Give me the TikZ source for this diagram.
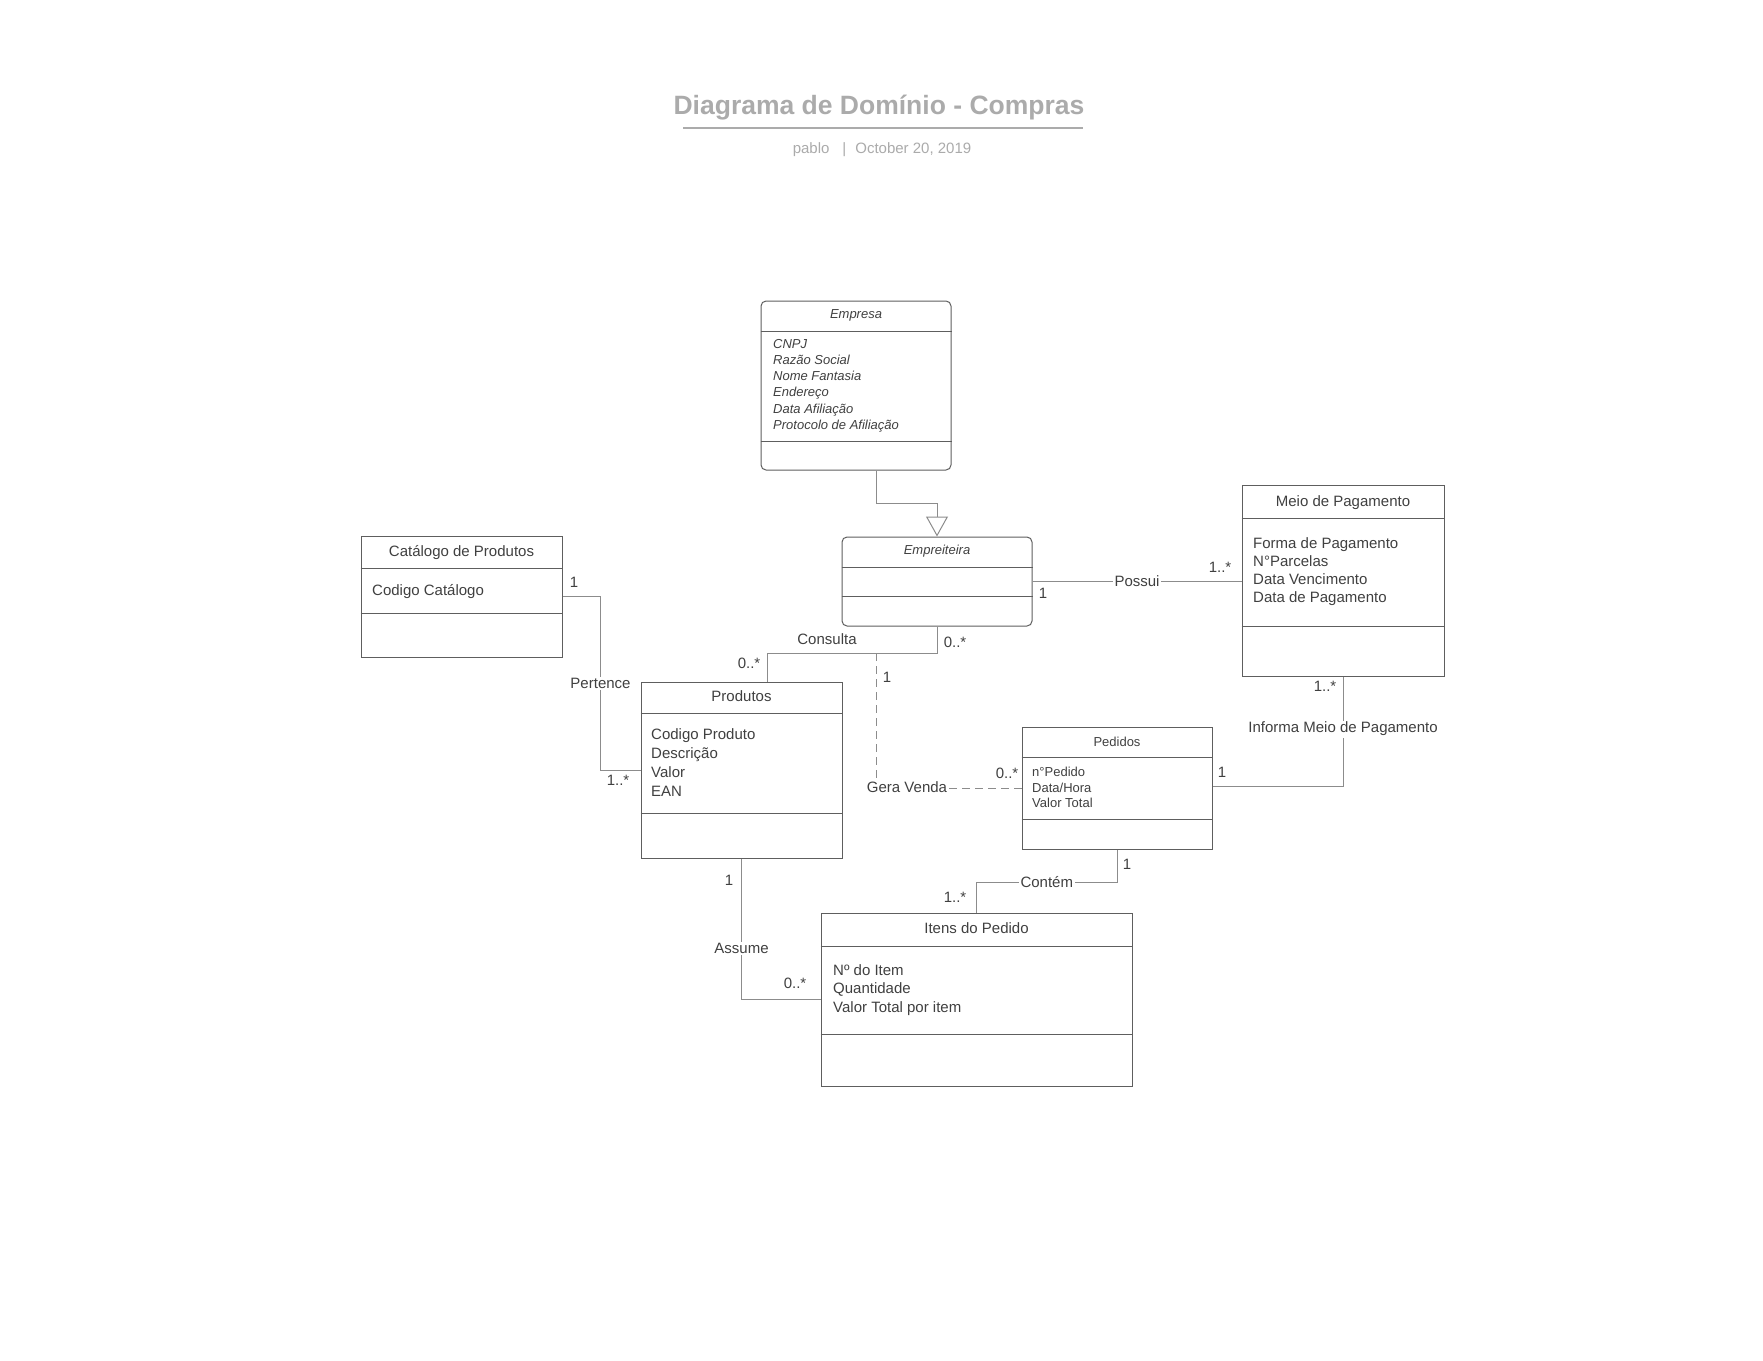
\documentclass[tikz,border=0pt]{standalone}
\usepackage{fontspec}
\setmainfont{Liberation Sans}
\usepackage{tikz}
\usetikzlibrary{calc,arrows.meta}
\definecolor{boxc}{HTML}{5E5E5E}
\definecolor{wirec}{HTML}{8C8C8C}
\definecolor{txtc}{HTML}{404040}
\definecolor{headc}{HTML}{ABABAB}
\newcommand\txtbig{\fontsize{15}{18.3}\selectfont}
\newcommand\txtsmall{\fontsize{13}{16.2}\selectfont}
\tikzset{
  cls/.style={draw=boxc,line width=1pt,fill=white,inner sep=0pt},
  sep/.style={boxc,line width=1pt},
  assoc/.style={wirec,line width=1pt},
  lbl/.style={fill=white,inner sep=1.5pt,text=txtc,font=\txtbig},
  mult/.style={text=txtc,inner sep=0pt,font=\txtbig},
  attr/.style={anchor=north west,align=left,inner sep=0pt,text=txtc},
  head/.style={anchor=base,inner sep=0pt,text=txtc}
}
\begin{document}
\begin{tikzpicture}[x=1pt,y=-1pt]
\useasboundingbox (0,0) rectangle (1763,1360);
\fill[white] (0,0) rectangle (1763,1360);
% title
\node[text=headc,font=\fontsize{26.5}{30}\selectfont\bfseries,anchor=base] (title) at (879,114.5) {Diagrama de Domínio - Compras};
\draw[headc,line width=1.5pt] (683,128) -- (1083,128);
\node[text=headc,font=\fontsize{15}{18}\selectfont,anchor=base] (author) at (882,153) {pablo\hspace{13pt}|\hspace{9pt}October 20, 2019};
% classes
\node[cls,rounded corners=5pt,minimum width=190pt,minimum height=169pt] (empresa) at (856,385.5) {};
\draw[sep] (empresa.west |- 0,331) -- (empresa.east |- 0,331);
\draw[sep] (empresa.west |- 0,441) -- (empresa.east |- 0,441);
\node[head,font=\txtsmall\itshape] (empresa-t) at (856,318.7) {Empresa};
\node[attr,font=\txtsmall\itshape] (empresa-a) at (773,339) {CNPJ\\Razão Social\\Nome Fantasia\\Endereço\\Data Afiliação\\Protocolo de Afiliação};

\node[cls,rounded corners=5pt,minimum width=190pt,minimum height=89pt] (empreiteira) at (937,581.5) {};
\draw[sep] (empreiteira.west |- 0,567) -- (empreiteira.east |- 0,567);
\draw[sep] (empreiteira.west |- 0,596) -- (empreiteira.east |- 0,596);
\node[head,font=\txtsmall\itshape] (empreiteira-t) at (937,554.7) {Empreiteira};

\node[cls,minimum width=202pt,minimum height=191pt] (meio) at (1343,580.5) {};
\draw[sep] (meio.west |- 0,518) -- (meio.east |- 0,518);
\draw[sep] (meio.west |- 0,626) -- (meio.east |- 0,626);
\node[head,font=\txtbig] (meio-t) at (1343,506.4) {Meio de Pagamento};
\node[attr,font=\fontsize{15}{18.3}\selectfont] (meio-a) at (1253,537) {Forma de Pagamento\\N°Parcelas\\Data Vencimento\\Data de Pagamento};

\node[cls,minimum width=201pt,minimum height=121pt] (catalogo) at (461.5,596.5) {};
\draw[sep] (catalogo.west |- 0,568) -- (catalogo.east |- 0,568);
\draw[sep] (catalogo.west |- 0,613) -- (catalogo.east |- 0,613);
\node[head,font=\txtbig] (catalogo-t) at (461.5,556.4) {Catálogo de Produtos};
\node[head,anchor=base west,font=\txtbig] (catalogo-a) at (372,595.4) {Codigo Catálogo};

\node[cls,minimum width=201pt,minimum height=176pt] (produtos) at (741.5,770) {};
\draw[sep] (produtos.west |- 0,713) -- (produtos.east |- 0,713);
\draw[sep] (produtos.west |- 0,813) -- (produtos.east |- 0,813);
\node[head,font=\txtbig] (produtos-t) at (741.5,701.4) {Produtos};
\node[attr,font=\fontsize{15}{19}\selectfont] (produtos-a) at (651,728.4) {Codigo Produto\\Descrição\\Valor\\EAN};

\node[cls,minimum width=190pt,minimum height=122pt] (pedidos) at (1117,788) {};
\draw[sep] (pedidos.west |- 0,757) -- (pedidos.east |- 0,757);
\draw[sep] (pedidos.west |- 0,819) -- (pedidos.east |- 0,819);
\node[head,font=\txtsmall] (pedidos-t) at (1117,746.7) {Pedidos};
\node[attr,font=\fontsize{13}{15.5}\selectfont] (pedidos-a) at (1032,767.2) {n°Pedido\\Data/Hora\\Valor Total};

\node[cls,minimum width=311pt,minimum height=173pt] (itens) at (976.5,999.5) {};
\draw[sep] (itens.west |- 0,946) -- (itens.east |- 0,946);
\draw[sep] (itens.west |- 0,1034) -- (itens.east |- 0,1034);
\node[head,font=\txtbig] (itens-t) at (976.5,933.4) {Itens do Pedido};
\node[attr,font=\fontsize{15}{18.5}\selectfont] (itens-a) at (833,964) {Nº do Item\\Quantidade\\Valor Total por item};

% generalization
\draw[assoc,-{Triangle[open,length=20pt,width=22pt]}] ([xshift=20pt]empresa.south) -- ++(0,33) -| (empreiteira.north);

% associations
\draw[assoc] (empreiteira.east) -- (empreiteira.east -| meio.west) node[lbl,pos=0.5] (possui) {Possui};
\node[mult] (m-pos1) at (1043,593) {1};
\node[mult] (m-pos2) at (1220,567) {1..*};

\draw[assoc] (empreiteira.south) -- ++(0,27) -| ([xshift=25.5pt]produtos.north);
\node[mult] (consulta) at (827,639) {Consulta};
\node[mult] (m-con1) at (955,642) {0..*};
\node[mult] (m-con2) at (749,663) {0..*};

\coordinate (gv) at (876,653);
\draw[assoc,dash pattern=on 8pt off 5pt] (gv) |- (pedidos.west);
\node[lbl] (geravenda) at (907,787) {Gera Venda};
\node[mult] (m-gv1) at (887,677) {1};
\node[mult] (m-gv2) at (1007,773) {0..*};

\draw[assoc] (catalogo.east) -- ++(38,0) |- node[lbl,pos=0.25] (pertence) {Pertence} (produtos.west);
\node[mult] (m-per1) at (574,582) {1};
\node[mult] (m-per2) at (618,780) {1..*};

\draw[assoc] ([yshift=2pt]pedidos.east) -| node[lbl,pos=0.76] (informa) {Informa Meio de Pagamento} (meio.south);
\node[mult] (m-inf1) at (1222,772) {1};
\node[mult] (m-inf2) at (1325,686) {1..*};

\draw[assoc] (pedidos.south) -- ++(0,33) -| node[lbl,pos=0.25] (contem) {Contém} (itens.north);
\node[mult] (m-cont1) at (1127,864) {1};
\node[mult] (m-cont2) at (955,897) {1..*};

\draw[assoc] (produtos.south) |- node[lbl,pos=0.32] (assume) {Assume} (itens.west);
\node[mult] (m-ass1) at (729,880) {1};
\node[mult] (m-ass2) at (795,983) {0..*};
\end{tikzpicture}
\end{document}
